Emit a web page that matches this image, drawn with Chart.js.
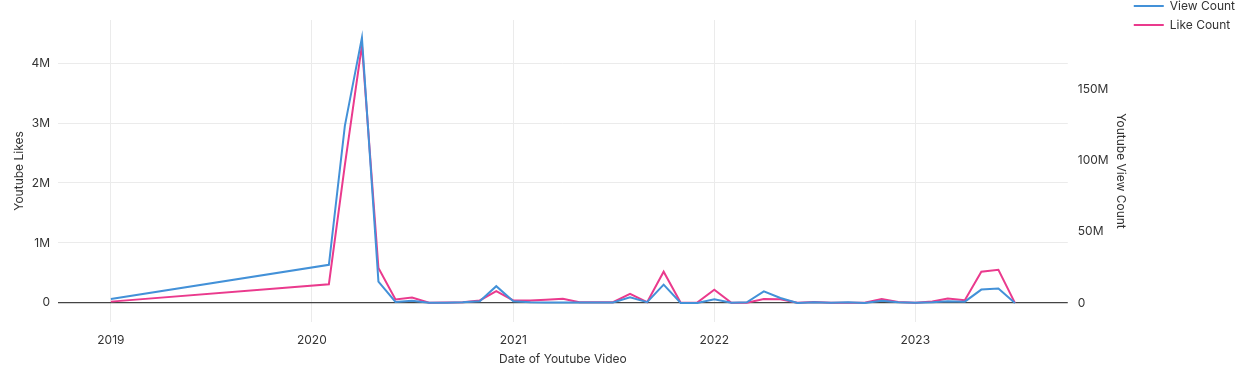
<!DOCTYPE html>
<html>
<head>
<meta charset="utf-8">
<script src="https://cdn.jsdelivr.net/npm/chart.js@4/dist/chart.umd.min.js"></script>
<style>
  html, body { margin: 0; padding: 0; background: #fff; }
  #wrap { width: 1245px; height: 373px; position: relative; }
</style>
</head>
<body>
<div id="wrap"><canvas id="ytChart"></canvas></div>
<script>
// monthly upload dates (first video in 2019, then Feb 2020 onwards)
let dates = [
  '2019-01-01',
  '2020-02-01','2020-03-01','2020-04-01','2020-05-01','2020-06-01','2020-07-01',
  '2020-08-01','2020-09-01','2020-10-01','2020-11-01','2020-12-01',
  '2021-01-01','2021-02-01','2021-03-01','2021-04-01','2021-05-01','2021-06-01',
  '2021-07-01','2021-08-01','2021-09-01','2021-10-01','2021-11-01','2021-12-01',
  '2022-01-01','2022-02-01','2022-03-01','2022-04-01','2022-05-01','2022-06-01',
  '2022-07-01','2022-08-01','2022-09-01','2022-10-01','2022-11-01','2022-12-01',
  '2023-01-01','2023-02-01','2023-03-01','2023-04-01','2023-05-01','2023-06-01',
  '2023-07-01'
]

let viewCount = [
  2.8e6,
  26.8e6, 124.6e6, 186.6e6, 15e6, 0.7e6, 1.6e6, 0.1e6, 0.1e6, 0.5e6, 1.2e6, 11.8e6,
  1.2e6, 0.5e6, 0.3e6, 0.3e6, 0.3e6, 0.3e6, 0.3e6, 4e6, 0.5e6, 12.9e6, 0, 0,
  2.6e6, 0.1e6, 0.5e6, 8.2e6, 3.5e6, 0, 0.5e6, 0.1e6, 0.5e6, 0, 1.6e6, 0.5e6,
  0.1e6, 0.5e6, 1.2e6, 0.9e6, 9.4e6, 10.1e6, 0
]

let likeCount = [
  0.02e6,
  0.31e6, 2.3e6, 4.3e6, 0.58e6, 0.055e6, 0.088e6, 0, 0.005e6, 0.01e6, 0.04e6, 0.195e6,
  0.04e6, 0.04e6, 0.05e6, 0.067e6, 0.01e6, 0.01e6, 0.01e6, 0.15e6, 0.01e6, 0.52e6, 0, 0.005e6,
  0.22e6, 0, 0, 0.062e6, 0.06e6, 0, 0.015e6, 0, 0, 0, 0.062e6, 0.012e6,
  0, 0.022e6, 0.072e6, 0.045e6, 0.52e6, 0.55e6, 0
]

let yearTicks = ['2019-01-01', '2020-01-01', '2021-01-01', '2022-01-01', '2023-01-01']
let likeTicks = [0, 1e6, 2e6, 3e6, 4e6]
let viewTicks = [0, 50e6, 100e6, 150e6]

let fmtM = v => v === 0 ? '0' : (v / 1e6) + 'M'
let textColor = '#333'
let font = { family: 'Inter', size: 12 }

Chart.defaults.font.family = 'Inter'
Chart.defaults.font.size = 12
Chart.defaults.color = textColor

// legend sits at the very top-right, above the plot's top edge
const liftLegend = {
  id: 'liftLegend',
  afterLayout(chart) {
    let lg = chart.legend
    lg.top -= 27
    lg.bottom -= 27
  }
}

let ctx = document.getElementById('ytChart').getContext('2d')

new Chart(ctx, {
  type: 'line',
  data: {
    datasets: [
      {
        label: 'View Count',
        data: dates.map((d, i) => ({ x: Date.parse(d), y: viewCount[i] })),
        borderColor: '#4391d8',
        backgroundColor: '#4391d8',
        borderWidth: 2,
        pointRadius: 0,
        yAxisID: 'views'
      },
      {
        label: 'Like Count',
        data: dates.map((d, i) => ({ x: Date.parse(d), y: likeCount[i] })),
        borderColor: '#ea3a8d',
        backgroundColor: '#ea3a8d',
        borderWidth: 2,
        pointRadius: 0,
        yAxisID: 'likes'
      }
    ]
  },
  plugins: [liftLegend],
  options: {
    responsive: true,
    maintainAspectRatio: false,
    animation: false,
    layout: { padding: { top: 20, left: 8, bottom: 0, right: 0 } },
    plugins: {
      legend: {
        position: 'right',
        align: 'start',
        labels: {
          usePointStyle: true,
          pointStyle: 'line',
          pointStyleWidth: 30,
          padding: 7,
          color: textColor,
          font: font
        }
      },
      tooltip: { enabled: false }
    },
    scales: {
      x: {
        type: 'linear',
        min: Date.parse('2018-09-27'),
        max: Date.parse('2023-10-05'),
        afterBuildTicks: axis => {
          axis.ticks = yearTicks.map(d => ({ value: Date.parse(d) }))
        },
        afterFit: axis => { axis.height = 51 },
        ticks: {
          padding: 11,
          maxRotation: 0,
          color: textColor,
          callback: v => new Date(v).getUTCFullYear()
        },
        grid: { color: '#ebebeb', drawTicks: false },
        border: { display: false },
        title: {
          display: true, text: 'Date of Youtube Video', color: textColor, font: font,
          padding: { top: 6, bottom: 6 }
        }
      },
      likes: {
        position: 'left',
        min: -0.32e6,
        max: 4.72e6,
        afterBuildTicks: axis => {
          axis.ticks = likeTicks.map(v => ({ value: v }))
        },
        afterFit: axis => { axis.width = 50 },
        ticks: {
          padding: 8,
          color: textColor,
          callback: fmtM
        },
        grid: {
          drawTicks: false,
          color: c => c.tick && c.tick.value === 0 ? '#444' : '#ebebeb',
          lineWidth: c => c.tick && c.tick.value === 0 ? 1.2 : 1
        },
        border: { display: false },
        title: { display: true, text: 'Youtube Likes', color: textColor, font: font }
      },
      views: {
        position: 'right',
        min: -13.4e6,
        max: 199e6,
        afterBuildTicks: axis => {
          axis.ticks = viewTicks.map(v => ({ value: v }))
        },
        afterFit: axis => { axis.width = 59 },
        ticks: {
          padding: 10,
          color: textColor,
          callback: fmtM
        },
        grid: { drawOnChartArea: false, drawTicks: false },
        border: { display: false },
        title: {
          display: true, text: 'Youtube View Count', color: textColor, font: font,
          padding: { top: -1, bottom: -1 }
        }
      }
    }
  }
})
</script>
</body>
</html>
